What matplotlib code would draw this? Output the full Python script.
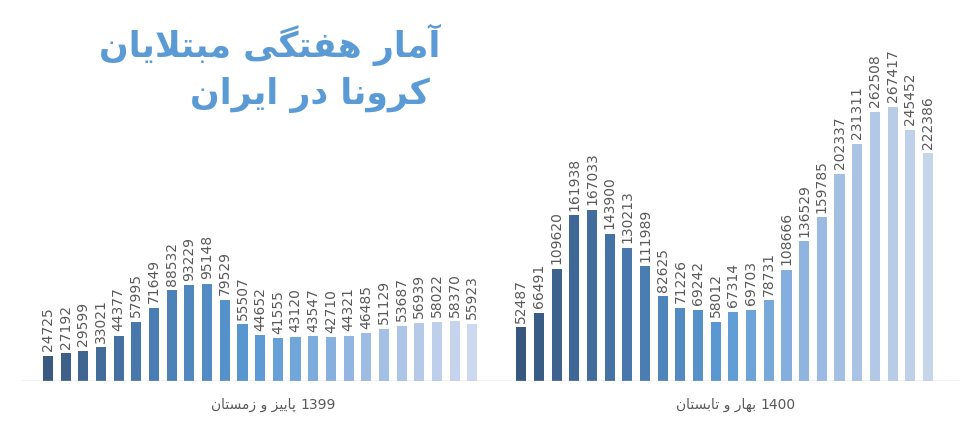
import numpy as np
import matplotlib
matplotlib.use('Agg')
import matplotlib.pyplot as plt
from matplotlib.colors import LinearSegmentedColormap

left_vals = [24725, 27192, 29599, 33021, 44377, 57995, 71649, 88532, 93229, 95148,
             79529, 55507, 44652, 41555, 43120, 43547, 42710, 44321, 46485, 51129,
             53687, 56939, 58022, 58370, 55923]
right_vals = [52487, 66491, 109620, 161938, 167033, 143900, 130213, 111989, 82625,
              71226, 69242, 58012, 67314, 69703, 78731, 108666, 136529, 159785,
              202337, 231311, 262508, 267417, 245452, 222386]
cat_left = "پاییز و زمستان"
cat_right = "بهار و تابستان"
year_left = "1399"
year_right = "1400"
title1 = "آمار هفتگی مبتلایان"
title2 = "کرونا در ایران"

# presentation forms: isolated, final, initial, medial
FORMS = {
    'ا': (0xFE8D, 0xFE8E), 'آ': (0xFE81, 0xFE82), 'د': (0xFEA9, 0xFEAA),
    'ر': (0xFEAD, 0xFEAE), 'ز': (0xFEAF, 0xFEB0), 'و': (0xFEED, 0xFEEE),
    'ب': (0xFE8F, 0xFE90, 0xFE91, 0xFE92), 'پ': (0xFB56, 0xFB57, 0xFB58, 0xFB59),
    'ت': (0xFE95, 0xFE96, 0xFE97, 0xFE98), 'س': (0xFEB1, 0xFEB2, 0xFEB3, 0xFEB4),
    'ف': (0xFED1, 0xFED2, 0xFED3, 0xFED4), 'ک': (0xFB8E, 0xFB8F, 0xFB90, 0xFB91),
    'گ': (0xFB92, 0xFB93, 0xFB94, 0xFB95), 'ل': (0xFEDD, 0xFEDE, 0xFEDF, 0xFEE0),
    'م': (0xFEE1, 0xFEE2, 0xFEE3, 0xFEE4), 'ن': (0xFEE5, 0xFEE6, 0xFEE7, 0xFEE8),
    'ه': (0xFEE9, 0xFEEA, 0xFEEB, 0xFEEC), 'ی': (0xFBFC, 0xFBFD, 0xFBFE, 0xFBFF),
}


def shape(text):
    chars = list(text)
    out = []
    i = 0
    while i < len(chars):
        c = chars[i]
        if c not in FORMS:
            out.append(c)
            i += 1
            continue
        prev_joins = i > 0 and chars[i - 1] in FORMS and len(FORMS[chars[i - 1]]) == 4
        if c == 'ل' and i + 1 < len(chars) and chars[i + 1] in 'اآ':
            out.append(chr(0xFEFC if prev_joins else 0xFEFB))
            i += 2
            continue
        f = FORMS[c]
        next_joins = len(f) == 4 and i + 1 < len(chars) and chars[i + 1] in FORMS
        if prev_joins and next_joins:
            g = f[3]
        elif prev_joins:
            g = f[1]
        elif next_joins:
            g = f[2]
        else:
            g = f[0]
        out.append(chr(g))
        i += 1
    return ''.join(out)[::-1]


fig = plt.figure(figsize=(9.77, 4.22), dpi=100)
ax = fig.add_axes([0, 41 / 422, 1, 381 / 422])

x_left = np.arange(len(left_vals))
x_right = np.arange(len(right_vals)) + len(left_vals) + 1.77

cmap_l = LinearSegmentedColormap.from_list('l', ['#3a5a80', '#4a7db4', '#5b9bd5', '#9dbbe3', '#ccd9ee'])
cmap_r = LinearSegmentedColormap.from_list('r', ['#36577e', '#4676aa', '#5b9bd5', '#9dbbe3', '#c6d5ea'])
col_l = [cmap_l(t) for t in np.linspace(0, 1, len(left_vals))]
col_r = [cmap_r(t) for t in np.linspace(0, 1, len(right_vals))]

ax.bar(x_left, left_vals, width=0.57, color=col_l)
ax.bar(x_right, right_vals, width=0.57, color=col_r)

top = 381 / 274 * 267417
for xs, vs in ((x_left, left_vals), (x_right, right_vals)):
    for x, v in zip(xs, vs):
        ax.text(x, v + top * 0.012, str(v), rotation=90, ha='center', va='bottom',
                fontsize=10, color='#595959')

ax.set_xlim(-48 / 17.68, (977 - 48) / 17.68)
ax.set_ylim(0, top)
ax.axis('off')
ax.axhline(0, xmin=22 / 977, xmax=958 / 977, color='#bfbfbf', lw=1)

# persian text and year drawn separately so the year sits on the right
cy = 1 - 405 / 422
fig.text(296 / 977, cy, shape(cat_left), ha='right', va='center', fontsize=10, color='#595959')
fig.text(300 / 977, cy, year_left, ha='left', va='center', fontsize=10, color='#595959')
fig.text(756 / 977, cy, shape(cat_right), ha='right', va='center', fontsize=10, color='#595959')
fig.text(760 / 977, cy, year_right, ha='left', va='center', fontsize=10, color='#595959')

fig.text(440 / 977, 1 - 45 / 422, shape(title1), ha='right', va='center',
         fontsize=25, fontweight='bold', color='#5b9bd5')
fig.text(430 / 977, 1 - 95 / 422, shape(title2), ha='right', va='center',
         fontsize=25, fontweight='bold', color='#5b9bd5')

fig.savefig('out.png', dpi=100)
